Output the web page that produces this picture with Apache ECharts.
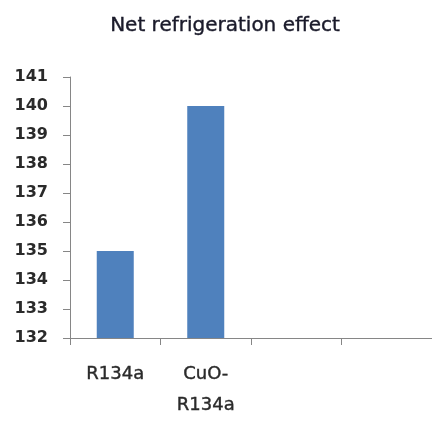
<!DOCTYPE html>
<html>
<head>
<meta charset="utf-8">
<style>
  html, body { margin: 0; padding: 0; background: #fff; }
  #chart { width: 432px; height: 421px; }
</style>
<script src="https://cdn.jsdelivr.net/npm/echarts@6/dist/echarts.min.js"></script>
</head>
<body>
<div id="chart"></div>
<script>
// Net refrigeration effect per refrigerant
const categories = ['R134a', 'CuO-R134a', '', ''];
const netEffect = [135, 140, null, null];
const yTicks = { min: 132, max: 141, step: 1 };

const chart = echarts.init(document.getElementById('chart'));
const font = '"DejaVu Sans", Verdana, sans-serif';

chart.setOption({
  animation: false,
  title: {
    text: 'Net refrigeration effect',
    left: 220,
    textAlign: 'center',
    top: 11,
    textStyle: { fontFamily: font, fontSize: 20, fontWeight: 'normal', color: '#1a1a2a',
      textBorderColor: '#1a1a2a', textBorderWidth: 0.4 }
  },
  grid: { left: 70, top: 77, width: 364, bottom: 78, containLabel: false },
  xAxis: {
    type: 'category',
    data: categories,
    axisLine: { lineStyle: { color: '#868686', width: 1 } },
    axisTick: { show: true, length: 7, alignWithLabel: false, lineStyle: { color: '#868686' } },
    axisLabel: {
      margin: 21,
      interval: 0,
      fontFamily: font,
      fontSize: 18,
      color: '#2a2a2a',
      textBorderColor: '#2a2a2a',
      textBorderWidth: 0.4,
      lineHeight: 31,
      formatter: v => v.replace('-', '-\n')
    }
  },
  yAxis: {
    type: 'value',
    min: yTicks.min,
    max: yTicks.max,
    interval: yTicks.step,
    axisLine: { show: true, lineStyle: { color: '#868686', width: 1 } },
    axisTick: { show: true, length: 7, lineStyle: { color: '#868686' } },
    splitLine: { show: false },
    axisLabel: { margin: 22, fontFamily: font, fontSize: 16, fontWeight: 'bold', color: '#2a2a2a' }
  },
  series: [{
    type: 'bar',
    data: netEffect,
    barWidth: 37,
    itemStyle: { color: '#4F81BD' }
  }]
});
</script>
</body>
</html>
